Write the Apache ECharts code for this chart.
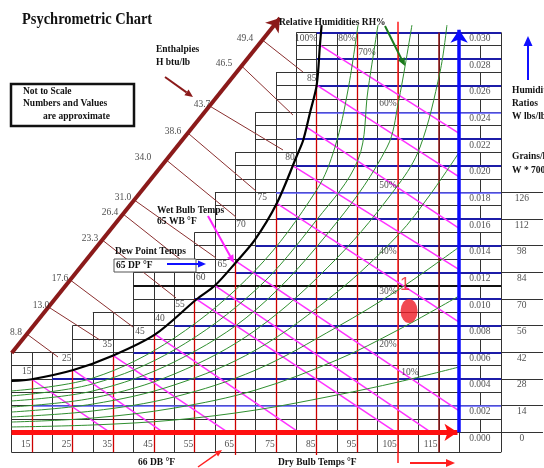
<!DOCTYPE html>
<html>
<head>
<meta charset="utf-8">
<script src="https://cdn.jsdelivr.net/npm/echarts/dist/echarts.min.js"></script>
<style>
  html, body { margin: 0; padding: 0; background: #fff; }
  #chart { width: 544px; height: 468px; }
</style>
</head>
<body>
<div id="chart"></div>
<script>
// x = dry bulb temperature (°F), y = humidity ratio W (lb/lb)
const dbTicks = [15, 25, 35, 45, 55, 65, 75, 85, 95, 105, 115];
const wTicks = [0.030, 0.028, 0.026, 0.024, 0.022, 0.020, 0.018, 0.016, 0.014, 0.012, 0.010, 0.008, 0.006, 0.004, 0.002, 0.000];
const grainW = [0.018, 0.016, 0.014, 0.012, 0.010, 0.008, 0.006, 0.004, 0.002, 0.000];
const grainVals = [126, 112, 98, 84, 70, 56, 42, 28, 14, 0];

// first dry bulb of each 0.001 row of the grid (row 0 .. row 30), the stair edge
const rowStart = [10, 10, 10, 10, 10, 10, 10, 25, 25, 30, 40, 40, 40, 55, 55, 55, 60, 60, 60, 65, 65, 65, 70, 70, 70, 75, 75, 75, 80, 80, 80];

// blue humidity ratio rows and the dry bulb they start from
const blueW = [0.002, 0.004, 0.006, 0.008, 0.010, 0.012, 0.014, 0.016, 0.018, 0.020, 0.022, 0.024, 0.026, 0.028, 0.030];
const blueFrom = [15, 20, 40, 50, 55, 65, 70, 75, 75, 80, 80, 85, 85, 85, 85];

// red dry bulb lines: top (on the saturation curve) and bottom
const redTop = [0.0040, 0.00467, 0.0058, 0.0073, 0.0100, 0.0128, 0.0172, 0.0261, 0.0300, 0.0308, 0.0300];
const redBottom = [-0.0015, -0.0015, -0.0015, -0.0015, -0.0015, -0.0017, -0.0015, -0.0017, -0.0015, -0.0023, -0.0015];

// saturation (100%) curve
const satCurve = [[10.06, 0.00385], [15.0, 0.00398], [25.2, 0.00467], [35.0, 0.00576], [45.3, 0.00734],
  [55.5, 0.00998], [60.0, 0.01101], [65.3, 0.01280], [69.8, 0.01443], [75.2, 0.01718], [80.2, 0.02080],
  [81.7, 0.02193], [83.4, 0.02403], [85.0, 0.02605], [85.8, 0.02905], [86.2, 0.03055]];
const satNames = ['15', '25', '35', '45', '40', '55', '60', '65', '70', '75', '80', '85'];
const satNamePos = [[13.75, 0.00455], [23.57, 0.00555], [33.55, 0.00655], [41.58, 0.00755], [46.5, 0.00855],
  [51.41, 0.0096], [56.5, 0.0116], [61.81, 0.0126], [66.4, 0.0156], [71.63, 0.0176], [78.44, 0.0206], [83.77, 0.02656]];

// wet bulb lines [T start, W start, T end, W end]
const wetBulb = [[15.0, 0.00398, 34.2, 0], [25.2, 0.00467, 47.3, 0], [35.0, 0.00576, 63.2, 0],
  [45.3, 0.00734, 80.65, 0], [55.5, 0.00998, 104.5, 0], [60.0, 0.01101, 113.1, 0],
  [65.3, 0.0128, 120, 0.0016], [75.2, 0.01718, 120, 0.00827], [79.1, 0.0200, 120, 0.0122],
  [82.5, 0.0229, 120, 0.0153], [85.0, 0.02605, 120, 0.01917], [85.8, 0.02905, 120, 0.02243]];

// enthalpy lines (btu/lb), from the enthalpy scale to the saturation curve
const enthalpy = ['8.8', '13.0', '17.6', '23.3', '26.4', '31.0', '34.0', '38.6', '43.7', '46.5', '49.4'];
const enthalpyFrom = [[13.8, 0.00737], [19.1, 0.0094], [24.43, 0.01143], [32.3, 0.01443], [37.41, 0.01638],
  [40.16, 0.01743], [48.05, 0.02043], [53.35, 0.02245], [58.69, 0.02448], [66.55, 0.02748], [71.66, 0.02943]];
const enthalpyTo = [[21.44, 0.00565], [31.76, 0.00692], [39.86, 0.0079], [50.43, 0.01008], [55.1, 0.0121],
  [60.26, 0.01308], [65.17, 0.01615], [70.09, 0.0181], [76.72, 0.02118], [79.18, 0.0238], [81.63, 0.02703]];
const enthalpyNamePos = [[11.12, 0.00752], [17.26, 0.00955], [21.93, 0.01155], [29.3, 0.01455], [34.21, 0.01652],
  [37.41, 0.01758], [42.32, 0.02065], [49.69, 0.0226], [56.82, 0.02462], [62.22, 0.0277], [67.38, 0.02958]];

// relative humidity curves
const rh10 = [[10, 0.0004], [30, 0.00055], [50, 0.00092], [70, 0.00167], [90, 0.0028], [105, 0.00377], [120, 0.0049]];
const rh20 = [[10, 0.00077], [30, 0.00107], [50, 0.00182], [70, 0.00317], [90, 0.00543], [105, 0.00768], [120, 0.01023]];
const rh30 = [[10, 0.00115], [30, 0.0016], [50, 0.00265], [70, 0.00467], [90, 0.0079], [105, 0.01068], [120, 0.0139]];
const rh40 = [[10, 0.00152], [30, 0.00212], [50, 0.00355], [70, 0.00617], [90, 0.01052], [105, 0.0148], [112.8, 0.0178], [120, 0.021]];
const rh50 = [[10, 0.0019], [30, 0.00257], [50, 0.00437], [70, 0.00767], [90, 0.01308], [105, 0.01855], [110.4, 0.0214], [115.3, 0.02703], [117.0, 0.03055]];
const rh60 = [[10, 0.00235], [30, 0.0031], [50, 0.00528], [70, 0.00918], [90, 0.01578], [102.3, 0.0214], [105, 0.02463], [108.4, 0.03055]];
const rh70 = [[10, 0.00273], [30, 0.00363], [50, 0.00618], [70, 0.01068], [85, 0.01594], [95.15, 0.02044], [97.6, 0.02568], [100.06, 0.03055]];
const rh80 = [[10, 0.0031], [30, 0.00407], [50, 0.00707], [70, 0.01218], [85, 0.01818], [89.5, 0.0214], [92.69, 0.02568], [95.15, 0.03055]];
const rhNames = ['100%', '80%', '70%', '60%', '50%', '40%', '30%', '20%', '10%'];
const rhNamePos = [[82.37, 0.02958], [92.44, 0.02958], [97.36, 0.02853], [102.52, 0.02463], [102.52, 0.01855],
  [102.52, 0.01353], [102.52, 0.01053], [102.52, 0.00655], [107.92, 0.00452]];

// state point 1 and its tag
const point1 = [107.7, 0.0091];
const point1Tag = [106.7, 0.01105];

const GRID_RIGHT = 130.3, GRAIN_RIGHT = 140.6, GRID_BOTTOM = -0.0015, LABEL_COL = 125.1;

const chart = echarts.init(document.getElementById('chart'));

function seg(a, b) { return { coords: [a, b] }; }

// grid (staircase) lines
const gridSegs = [];
rowStart.forEach((t, k) => {
  const w = k / 1000;
  const right = (k % 2 === 0 && k <= 18) ? GRAIN_RIGHT : GRID_RIGHT;
  gridSegs.push(seg([t, w], [right, w]));
  if (k % 2 === 1) gridSegs.push(seg([LABEL_COL, w], [LABEL_COL, w - 0.001]));
});
gridSegs.push(seg([10, GRID_BOTTOM], [GRID_RIGHT, GRID_BOTTOM]));
for (let t = 10; t <= 120; t += 5) {
  let top = 0;
  rowStart.forEach((s, k) => { if (s <= t) top = k / 1000; });
  gridSegs.push(seg([t, GRID_BOTTOM], [t, top]));
}
gridSegs.push(seg([GRID_RIGHT, GRID_BOTTOM], [GRID_RIGHT, 0.030]));

const blueSegs = blueW.map((w, i) => ({
  coords: [[blueFrom[i], w], [GRID_RIGHT, w]],
  lineStyle: (w === 0.002 || w === 0.018 || w === 0.024) ? { color: '#5a5aff', width: 1.5 } : { color: '#1c1ca8', width: 2 }
}));

const redSegs = dbTicks.map((t, i) => ({
  coords: [[t, redTop[i]], [t, redBottom[i]]],
  lineStyle: t === 105 ? { color: '#ff1a1a', width: 1.5 } : (t === 115 ? { color: '#8b1010', width: 1.5 } : { color: '#cc0000', width: 1.3 })
}));

function textSeries(items, style, position, distance) {
  return {
    type: 'scatter', symbolSize: 0, silent: true, z: 20,
    data: items.map(d => ({ value: [d[0], d[1]], name: d[2] })),
    label: Object.assign({ show: true, position: position || 'inside', distance: distance || 0, formatter: '{b}' }, style)
  };
}
const numStyle = { color: '#222', fontSize: 9.5, fontFamily: 'Liberation Serif' };

function rhSeries(data) {
  return {
    type: 'line', data: data, smooth: 0.35, showSymbol: false, silent: true, z: 4,
    lineStyle: { color: '#2f8f2f', width: 1 }
  };
}

function arrow(x1, y1, x2, y2, color, w, head) {
  const a = Math.atan2(y2 - y1, x2 - x1);
  const bx = x2 - head * Math.cos(a), by = y2 - head * Math.sin(a);
  const nx = -Math.sin(a) * head * 0.45, ny = Math.cos(a) * head * 0.45;
  return [
    { type: 'line', z: 100, shape: { x1: x1, y1: y1, x2: bx, y2: by }, style: { stroke: color, lineWidth: w } },
    { type: 'polygon', z: 100, shape: { points: [[x2, y2], [bx + nx, by + ny], [bx - nx, by - ny]] }, style: { fill: color } }
  ];
}
function txt(x, y, s, size, bold, align) {
  return {
    type: 'text', z: 100, x: x, y: y,
    style: { text: s, fill: '#111', font: (bold ? 'bold ' : '') + size + 'px "Liberation Serif"', textAlign: align || 'left', textVerticalAlign: 'middle' }
  };
}

const title = txt(22, 20, 'Psychrometric Chart', 17, true);
title.scaleX = 0.85;

const graphics = [
  title,
  { type: 'rect', z: 100, shape: { x: 11, y: 84, width: 123, height: 42 }, style: { fill: '#fff', stroke: '#111', lineWidth: 2.5 } },
  txt(23, 92, 'Not to Scale', 9.5, true),
  txt(23, 104, 'Numbers and Values', 9.5, true),
  txt(43, 117, 'are approximate', 9.5, true),
  txt(156, 50, 'Enthalpies', 9.5, true),
  txt(156, 63, 'H btu/lb', 9.5, true),
  txt(279, 23, 'Relative Humidities RH%', 9.5, true),
  txt(157, 211, 'Wet Bulb Temps', 9.5, true),
  txt(157, 222, '65 WB °F', 9.5, true),
  txt(115, 252, 'Dew Point Temps', 9.5, true),
  { type: 'rect', z: 99, shape: { x: 114, y: 259, width: 82, height: 13 }, style: { fill: '#fff', stroke: '#555', lineWidth: 1 } },
  txt(116, 265.5, '65 DP °F', 9.5, true),
  txt(512, 91, 'Humidity', 9.5, true),
  txt(512, 104, 'Ratios', 9.5, true),
  txt(512, 117, 'W lbs/lb', 9.5, true),
  txt(512, 157, 'Grains/lb', 9.5, true),
  txt(512, 171, 'W * 7000', 9.5, true),
  txt(138, 463, '66 DB °F', 9.5, true),
  txt(278, 463, 'Dry Bulb Temps °F', 9.5, true)
].concat(
  arrow(165, 77, 193, 97, '#8b1a1a', 2, 8),
  arrow(385, 26, 405, 66, '#1a7a1a', 2, 8),
  arrow(208, 216, 234, 263, '#ff22ff', 2, 8),
  arrow(167, 264, 206, 264, '#1010ff', 2, 8),
  arrow(198, 467, 222, 450, '#ff2020', 1.5, 7),
  arrow(410, 463, 455, 463, '#ff2020', 2, 9),
  arrow(528, 80, 528, 36, '#1010ff', 2, 10)
);

chart.setOption({
  backgroundColor: '#fff',
  animation: false,
  grid: { left: 0, right: 0, top: 0, bottom: 0 },
  xAxis: { type: 'value', min: 7.187, max: 140.85, show: false },
  yAxis: { type: 'value', min: -0.002678, max: 0.032431, show: false },
  graphic: graphics,
  series: [
    { type: 'lines', coordinateSystem: 'cartesian2d', silent: true, z: 1, lineStyle: { color: '#333', width: 1, opacity: 1 }, data: gridSegs },
    { type: 'lines', coordinateSystem: 'cartesian2d', silent: true, z: 2, lineStyle: { color: '#111', width: 2, opacity: 1 },
      data: [seg([40, 0.011], [GRID_RIGHT, 0.011])] },
    { type: 'lines', coordinateSystem: 'cartesian2d', silent: true, z: 2, lineStyle: { opacity: 1 }, data: blueSegs },
    { type: 'lines', coordinateSystem: 'cartesian2d', silent: true, z: 3, lineStyle: { opacity: 1 }, data: redSegs },
    { type: 'lines', coordinateSystem: 'cartesian2d', silent: true, z: 4, lineStyle: { color: '#ff33ff', width: 1.5, opacity: 1 },
      data: wetBulb.map(d => seg([d[0], d[1]], [d[2], d[3]])) },
    { type: 'lines', coordinateSystem: 'cartesian2d', silent: true, z: 4, lineStyle: { color: '#8b3030', width: 1, opacity: 1 },
      data: enthalpyFrom.map((p, i) => seg(p, enthalpyTo[i])) },
    rhSeries(rh10), rhSeries(rh20), rhSeries(rh30), rhSeries(rh40),
    rhSeries(rh50), rhSeries(rh60), rhSeries(rh70), rhSeries(rh80),
    { type: 'line', data: satCurve, smooth: 0.3, showSymbol: false, silent: true, z: 6, lineStyle: { color: '#000', width: 2.2 } },
    // axis arrows
    { type: 'lines', coordinateSystem: 'cartesian2d', silent: true, z: 7, symbol: ['none', 'arrow'], symbolSize: 13,
      data: [
        { coords: [[10, 0], [119.6, 0]], lineStyle: { color: '#ff1010', width: 5, opacity: 1 } },
        { coords: [[120, 0], [120, 0.0302]], lineStyle: { color: '#0a0aff', width: 3.5, opacity: 1 } },
        { coords: [[10.06, 0.00595], [75.98, 0.03108]], lineStyle: { color: '#8b1a1a', width: 4, opacity: 1 } }
      ] },
    // state point 1
    { type: 'scatter', silent: true, z: 8, symbol: 'circle', symbolSize: [17, 24], itemStyle: { color: '#ee1c25' },
      data: [point1] },
    textSeries([[point1Tag[0], point1Tag[1], '1']], { color: '#ee1c25', fontSize: 18, fontFamily: 'Liberation Sans' }),
    textSeries(dbTicks.map(t => [t - 0.3, -0.00095, String(t)]), numStyle, 'left', 0),
    textSeries(wTicks.map(w => [LABEL_COL, w - 0.00045, w.toFixed(3)]), numStyle),
    textSeries(grainW.map((w, i) => [135.4, w - 0.00045, String(grainVals[i])]), numStyle),
    textSeries(satNamePos.map((p, i) => [p[0], p[1], satNames[i]]), numStyle),
    textSeries(enthalpyNamePos.map((p, i) => [p[0], p[1], enthalpy[i]]), numStyle),
    textSeries(rhNamePos.map((p, i) => [p[0], p[1], rhNames[i]]), numStyle)
  ]
});
</script>
</body>
</html>
